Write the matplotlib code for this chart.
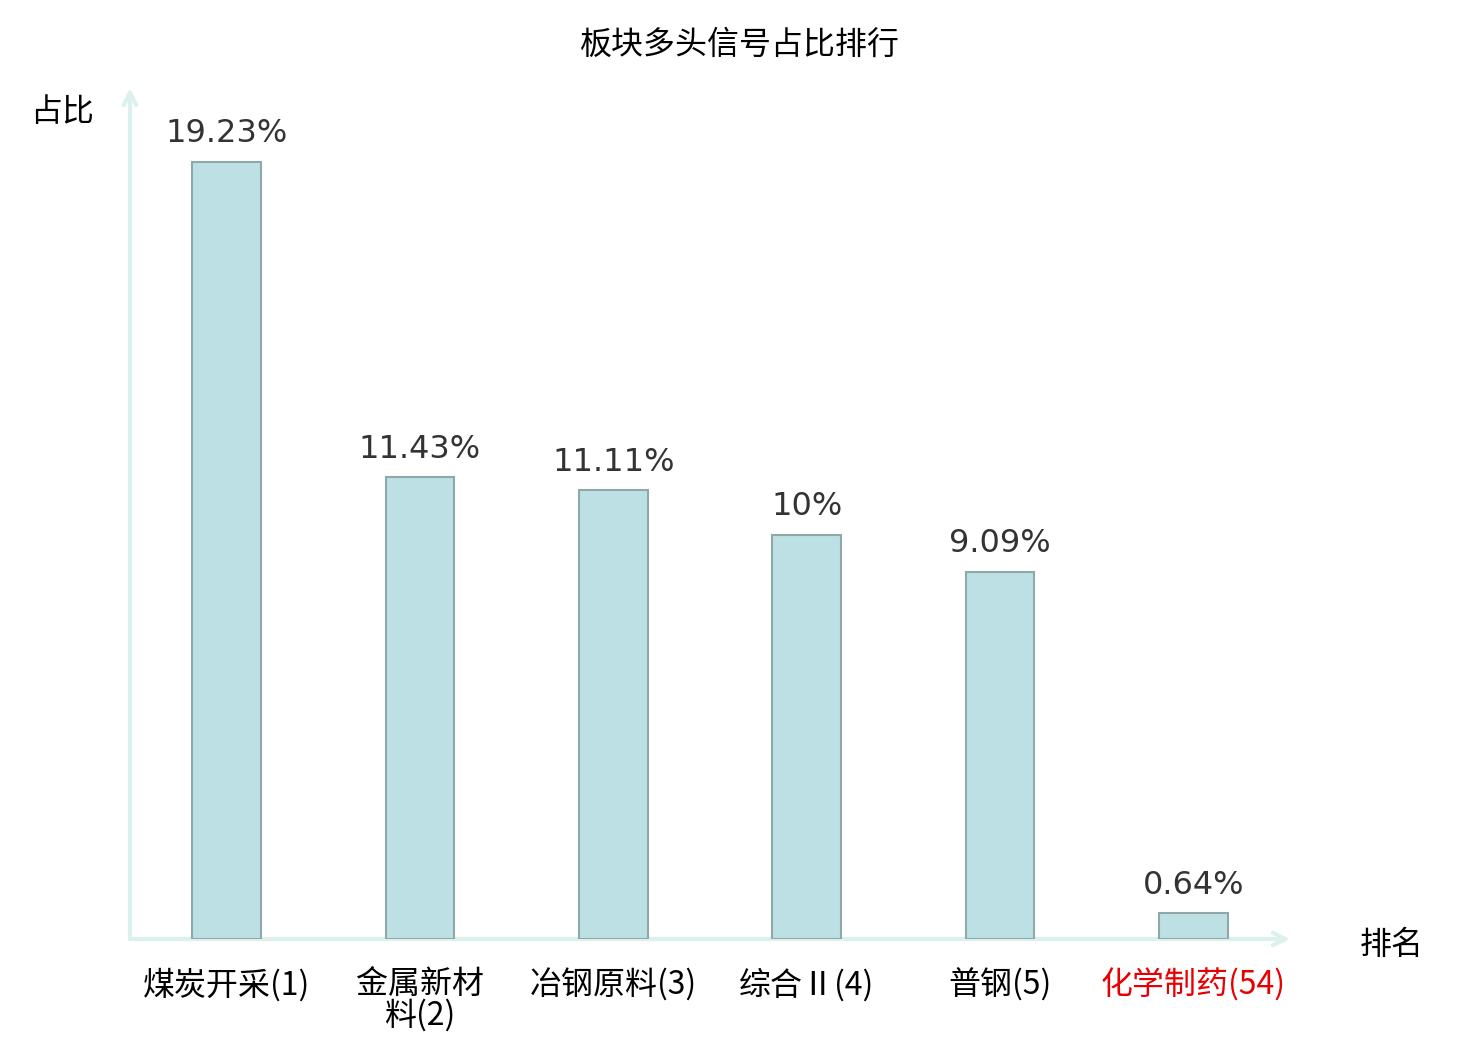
import matplotlib
matplotlib.use("Agg")
import matplotlib.pyplot as plt

# ── Data ─────────────────────────────────────────────────────────────────────
sectors = ["煤炭开采(1)", "金属新材\n料(2)", "冶钢原料(3)", "综合Ⅱ(4)", "普钢(5)", "化学制药(54)"]
shares = [19.23, 11.43, 11.11, 10.0, 9.09, 0.64]
share_labels = ["19.23%", "11.43%", "11.11%", "10%", "9.09%", "0.64%"]
label_colors = ["black", "black", "black", "black", "black", "#e60000"]

# ── Styling ──────────────────────────────────────────────────────────────────
BAR_FILL = "#bce0e3"
BAR_EDGE = "#8fa9a9"
AXIS_COL = "#dcf1ee"
VALUE_COL = "#333333"
CJK = ["Noto Sans CJK SC", "DejaVu Sans"]

plt.rcParams["font.family"] = CJK

fig = plt.figure(figsize=(14.8, 10.4), dpi=100)
ax = fig.add_axes([0.0878, 0.0971, 0.7838, 0.8183])

x = list(range(len(sectors)))
ax.bar(x, shares, width=0.355, color=BAR_FILL, edgecolor=BAR_EDGE,
       linewidth=1.5, zorder=2)

for xi, v, lab in zip(x, shares, share_labels):
    ax.annotate(lab, xy=(xi, v), xytext=(0, 9), textcoords="offset points",
                ha="center", va="bottom", fontsize=23, color=VALUE_COL,
                family="DejaVu Sans")

ax.set_xlim(-0.5, 5.5)
ax.set_ylim(0, 21.06)

# hide default spines / ticks, draw arrow axes instead
for s in ax.spines.values():
    s.set_visible(False)
ax.set_yticks([])
ax.set_xticks(x)
ax.set_xticklabels(sectors, fontsize=23, linespacing=0.95)
for t, c in zip(ax.get_xticklabels(), label_colors):
    t.set_color(c)
ax.tick_params(axis="x", length=0, pad=21)

arrow_kw = dict(arrowstyle="->,head_length=0.9,head_width=0.45",
                color=AXIS_COL, lw=3, shrinkA=0, shrinkB=0)
ax.annotate("", xy=(1.0, 0), xytext=(0, 0), xycoords="axes fraction",
            arrowprops=arrow_kw, annotation_clip=False, zorder=1)
ax.annotate("", xy=(0, 1.0), xytext=(0, 0), xycoords="axes fraction",
            arrowprops=arrow_kw, annotation_clip=False, zorder=1)

fig.text(0.500, 0.957, "板块多头信号占比排行", ha="center", va="center",
         fontsize=23, color="black")
fig.text(0.042, 0.892, "占比", ha="center", va="center", fontsize=23, color="black")
fig.text(0.940, 0.091, "排名", ha="center", va="center", fontsize=23, color="black")

fig.savefig("out.png", dpi=100, facecolor="white")
